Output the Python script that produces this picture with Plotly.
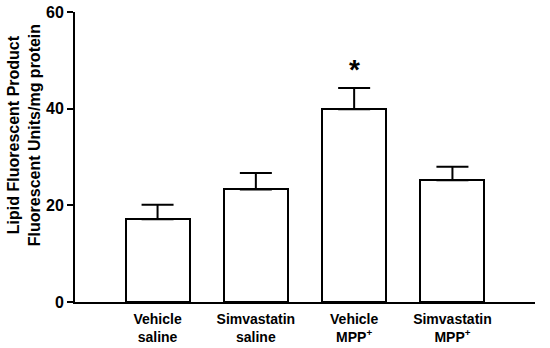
import plotly.graph_objects as go

categories = ["Vehicle<br>saline", "Simvastatin<br>saline", "Vehicle<br>MPP<sup>+</sup>", "Simvastatin<br>MPP<sup>+</sup>"]
means = [17.1, 23.3, 39.9, 25.2]
sem = [3.0, 3.4, 4.4, 2.8]
yticks = [0, 20, 40, 60]
ytitle = "Lipid Fluorescent Product<br>Fluorescent Units/mg protein"
sig_index = 2
sig_y = 49.3

FONT = "Liberation Sans, Arial, sans-serif"
xs = list(range(len(categories)))

fig = go.Figure()
fig.add_trace(go.Bar(
    x=xs, y=means, width=0.65,
    marker=dict(color="white", line=dict(color="black", width=2)),
    error_y=dict(type="data", symmetric=False, array=sem, arrayminus=[0]*len(sem),
                 color="black", thickness=2, width=16),
    showlegend=False,
))

fig.add_annotation(x=sig_index, y=sig_y, xref="x", yref="y", text="*", showarrow=False,
                   font=dict(family=FONT, size=28, color="black", weight="bold"),
                   yanchor="middle", yshift=-6)

fig.add_annotation(x=-0.112, y=0.577, xref="paper", yref="paper", text=ytitle,
                   textangle=-90, showarrow=False, xanchor="center", yanchor="middle",
                   font=dict(family=FONT, size=16, color="black", weight="bold"))

fig.update_layout(
    width=550, height=348,
    margin=dict(l=75, r=15, t=12, b=46),
    paper_bgcolor="white", plot_bgcolor="white",
    font=dict(family=FONT, color="black"),
    bargap=0,
)
fig.update_xaxes(range=[-0.84, 3.84], showline=True, linewidth=2, linecolor="black",
                 tickvals=xs, ticktext=categories, ticks="", showgrid=False, zeroline=False,
                 automargin=False, ticklabelstandoff=3,
                 tickfont=dict(family=FONT, size=14, color="black", weight="bold"))
fig.update_yaxes(range=[0, 60], showline=True, linewidth=2, linecolor="black",
                 tickvals=yticks, ticks="outside", ticklen=6, tickwidth=2, tickcolor="black",
                 showgrid=False, zeroline=False, automargin=False,
                 tickfont=dict(family=FONT, size=16, color="black", weight="bold"))

fig.write_html("out.html", config={"displayModeBar": False},
               post_script="document.body.style.margin='0';document.body.style.overflow='hidden';")
